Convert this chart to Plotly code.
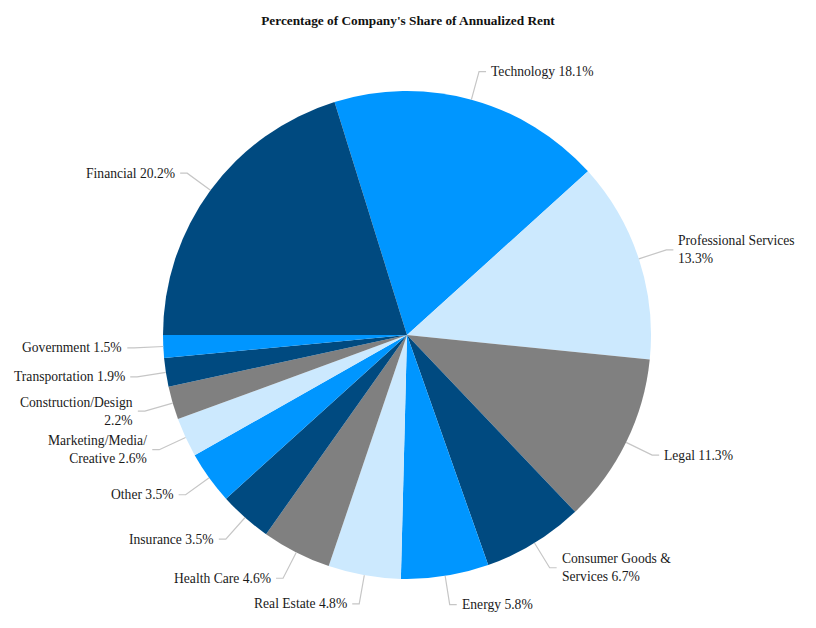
import math
import plotly.graph_objects as go

# data (clockwise, starting with Technology)
sectors = ["Technology", "Professional Services", "Legal", "Consumer Goods & Services", "Energy",
           "Real Estate", "Health Care", "Insurance", "Other", "Marketing/Media/Creative",
           "Construction/Design", "Transportation", "Government", "Financial"]
shares = [18.1, 13.3, 11.3, 6.7, 5.8, 4.8, 4.6, 3.5, 3.5, 2.6, 2.2, 1.9, 1.5, 20.2]
label_text = ["Technology 18.1%", "Professional Services<br>13.3%", "Legal 11.3%",
              "Consumer Goods &<br>Services 6.7%", "Energy 5.8%", "Real Estate 4.8%",
              "Health Care 4.6%", "Insurance 3.5%", "Other 3.5%", "Marketing/Media/<br>Creative 2.6%",
              "Construction/Design<br>2.2%", "Transportation 1.9%", "Government 1.5%", "Financial 20.2%"]

NAVY, BLUE, LIGHT, GREY = "#004a80", "#0096ff", "#cce9fe", "#808080"
colors = [BLUE, LIGHT, GREY, NAVY, BLUE, LIGHT, GREY, NAVY, BLUE, LIGHT, GREY, NAVY, BLUE, NAVY]

FONT = "Liberation Serif, Times New Roman, serif"
W, H = 816, 628
OFF = 8                              # page body margin
cx, cy, R = 407 - OFF, 335 - OFF, 244  # pie centre / radius in pixels
total = sum(shares)
rotation = 270 + 360 * shares[-1] / total - 360   # Financial starts at 9 o'clock

fig = go.Figure(go.Pie(
    labels=sectors, values=shares, sort=False, direction="clockwise", rotation=rotation,
    marker=dict(colors=colors, line=dict(width=0)), textinfo="none", hoverinfo="label+percent",
    showlegend=False,
    domain=dict(x=[(cx - R) / W, (cx + R) / W], y=[(H - cy - R) / H, (H - cy + R) / H]),
))

# leader lines + labels
shapes, annotations = [], []
acc = rotation
for txt, v in zip(label_text, shares):
    mid = math.radians(acc + 360 * v / total / 2)
    acc += 360 * v / total
    s, c = math.sin(mid), -math.cos(mid)
    x0, y0 = cx + R * s, cy + R * c
    x1, y1 = cx + 273 * s, cy + 273 * c
    side = 1 if s >= 0 else -1
    x2 = x1 + 7 * side
    path = f"M {x0/W} {1-y0/H} L {x1/W} {1-y1/H} L {x2/W} {1-y1/H}"
    shapes.append(dict(type="path", path=path, xref="paper", yref="paper",
                       line=dict(color="#c6c6c6", width=1.2)))
    annotations.append(dict(x=(x2 + 3 * side) / W, y=1 - y1 / H, xref="paper", yref="paper",
                            text=txt, showarrow=False, xanchor="left" if side > 0 else "right",
                            yanchor="middle", align="left" if side > 0 else "right",
                            font=dict(family=FONT, size=13.6, color="#1a1a1a")))

fig.update_layout(
    width=W, height=H, margin=dict(l=0, r=0, t=0, b=0),
    paper_bgcolor="white", plot_bgcolor="white",
    title=dict(text="<b>Percentage of Company's Share of Annualized Rent</b>", x=(408 - OFF) / W,
               xanchor="center", y=1 - (20 - OFF) / H, yanchor="middle",
               font=dict(family=FONT, size=13.3, color="#111111")),
    shapes=shapes, annotations=annotations,
)

fig.write_html("out.html")
